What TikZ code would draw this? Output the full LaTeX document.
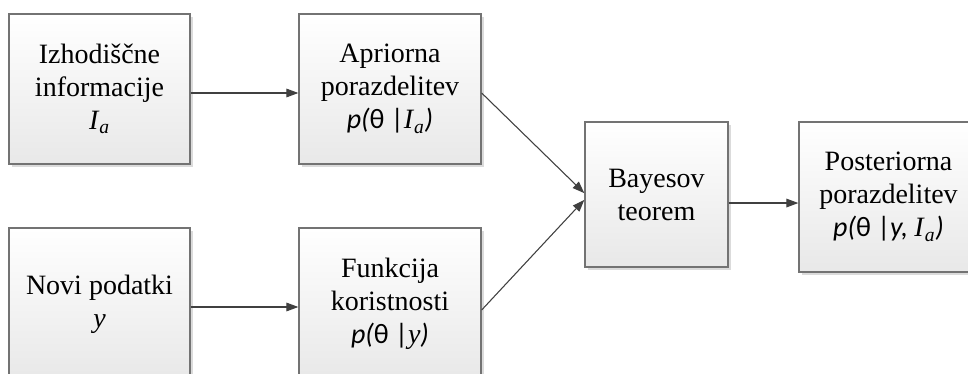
\documentclass[tikz,border=0pt]{standalone}
\usepackage{fontspec}
\setmainfont{Liberation Serif}
\newfontfamily\calfont{Carlito}
\usetikzlibrary{arrows.meta,shadows}

% sans italic pieces of the formulas
\newcommand{\si}[1]{{\calfont\itshape #1}}
\newcommand{\su}[1]{{\calfont #1}}
\newcommand{\Ia}{\textit{I}\textsubscript{\itshape a}}

\tikzset{
  block/.style={draw=black!55, line width=1pt, top color=white, bottom color=black!9,
    drop shadow={shadow xshift=2pt, shadow yshift=-2pt, fill=black!14, opacity=1},
    align=center, inner sep=0pt,
    font=\fontsize{21}{24.75}\selectfont},
  flow/.style={draw=black!75, line width=0.8pt,
    -{Triangle[length=9pt,width=6.5pt]}},
}

\begin{document}
\begin{tikzpicture}[x=0.75pt,y=-0.75pt]
  \clip (0,0) rectangle (968,374);
  \fill[white] (0,0) rectangle (968,374);

  \node[block, minimum width=135.75pt, minimum height=112.5pt] (info) at (99.5,89)
    {Izhodiščne\\ informacije\\ \Ia};
  \node[block, minimum width=136.5pt, minimum height=112.5pt] (prior) at (390,89)
    {Apriorna\\ porazdelitev\\ \si{p(}\su{θ |}\Ia\si{)}};
  \node[block, minimum width=135.75pt, minimum height=114pt] (data) at (99.5,304)
    {Novi podatki\\ \textit{y}};
  \node[block, minimum width=136.5pt, minimum height=114pt] (like) at (390,304)
    {Funkcija\\ koristnosti\\ \si{p(}\su{θ |}\textit{y}\si{)}};
  \node[block, minimum width=107.25pt, minimum height=108.75pt] (bayes) at (656.5,194.5)
    {Bayesov\\ teorem};
  \node[block, minimum width=134.25pt, minimum height=112.5pt] (post) at (888.5,197)
    {Posteriorna\\ porazdelitev\\ \si{p(}\su{θ |}\si{y, }\Ia\si{)}};

  \coordinate (bout) at ([yshift=-6.4pt]bayes.east);

  \draw[flow] ([yshift=-3pt]info.east) -- ([yshift=-3pt]prior.west);
  \draw[flow] ([yshift=-2.25pt]data.east) -- ([yshift=-2.25pt]like.west);
  \draw[flow] ([yshift=-3pt]prior.east) -- ([yshift=1pt]bayes.west);
  \draw[flow] ([yshift=-4.5pt]like.east) -- ([yshift=-4pt]bayes.west);
  \draw[flow] (bout) -- (bout -| post.west);
\end{tikzpicture}
\end{document}
